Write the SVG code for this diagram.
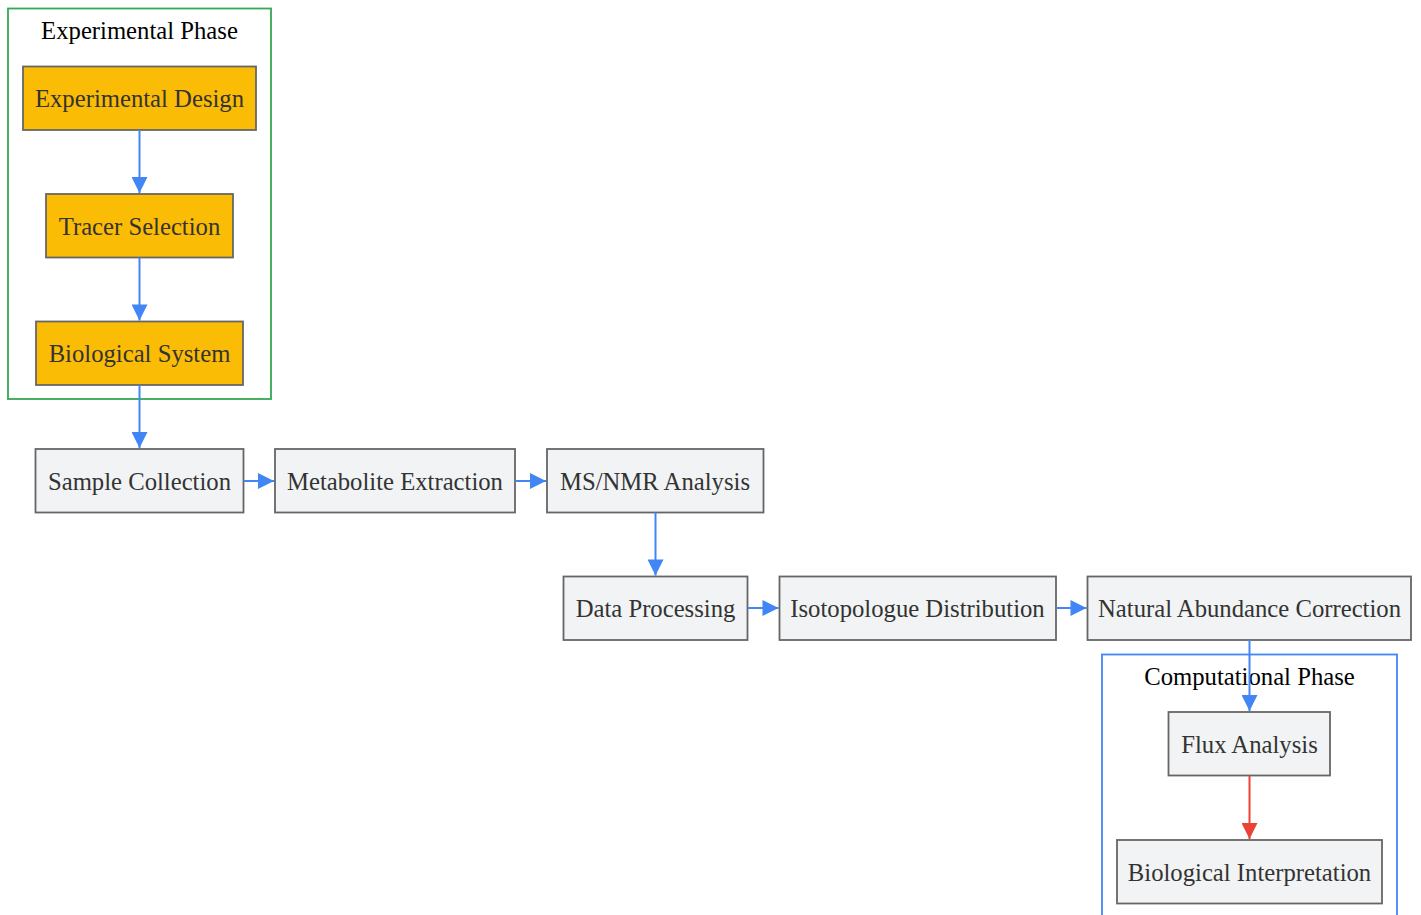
<svg xmlns="http://www.w3.org/2000/svg" width="1421" height="915" viewBox="0 0 1421 915">
<style>
text{font-family:"Liberation Serif","Times New Roman",serif;font-size:24.7px;text-anchor:middle;dominant-baseline:central}
.n text{fill:#333}
.t{fill:#000}
.exp rect{fill:#fbbc05;stroke:#666;stroke-width:1.8}
.gen rect{fill:#f1f3f4;stroke:#666;stroke-width:1.8}
.e{fill:none;stroke:#4285f4;stroke-width:2}
.r{stroke:#ea4335}
</style>
<defs>
<marker id="ab" viewBox="0 0 10 10" refX="10" refY="5" markerUnits="userSpaceOnUse" markerWidth="20" markerHeight="16" orient="auto"><path d="M0,0L10,5L0,10z" fill="#4285f4"/></marker>
<marker id="ar" viewBox="0 0 10 10" refX="10" refY="5" markerUnits="userSpaceOnUse" markerWidth="20" markerHeight="16" orient="auto"><path d="M0,0L10,5L0,10z" fill="#ea4335"/></marker>
</defs>
<rect width="1421" height="915" fill="#fff"/>
<g id="cluster-exp">
<rect x="8" y="8.5" width="263" height="390.5" fill="none" stroke="#34a853" stroke-width="1.8"/>
<text class="t" x="139.5" y="30">Experimental Phase</text>
</g>
<g id="cluster-comp">
<rect x="1102" y="654.5" width="295" height="270" fill="none" stroke="#4285f4" stroke-width="1.8"/>
<text class="t" x="1249.5" y="676">Computational Phase</text>
</g>
<g id="node-ed" class="n exp"><rect x="23" y="66.5" width="233" height="63.5"/><text x="139.5" y="98">Experimental Design</text></g>
<g id="node-ts" class="n exp"><rect x="46" y="194" width="187" height="63.5"/><text x="139.5" y="226">Tracer Selection</text></g>
<g id="node-bs" class="n exp"><rect x="36" y="321.5" width="207" height="63.5"/><text x="139.5" y="353">Biological System</text></g>
<g id="node-sc" class="n gen"><rect x="35.5" y="449" width="208" height="63.5"/><text x="139.5" y="481">Sample Collection</text></g>
<g id="node-me" class="n gen"><rect x="275" y="449" width="240" height="63.5"/><text x="395" y="481">Metabolite Extraction</text></g>
<g id="node-ms" class="n gen"><rect x="547" y="449" width="216.5" height="63.5"/><text x="655" y="481">MS/NMR Analysis</text></g>
<g id="node-dp" class="n gen"><rect x="563.5" y="576.5" width="184" height="63.5"/><text x="655.5" y="608">Data Processing</text></g>
<g id="node-id" class="n gen"><rect x="779.5" y="576.5" width="276.5" height="63.5"/><text x="917.5" y="608">Isotopologue Distribution</text></g>
<g id="node-nac" class="n gen"><rect x="1087.5" y="576.5" width="323.5" height="63.5"/><text x="1249.5" y="608">Natural Abundance Correction</text></g>
<g id="node-fa" class="n gen"><rect x="1168.5" y="712" width="161.5" height="63.5"/><text x="1249.5" y="744">Flux Analysis</text></g>
<g id="node-bi" class="n gen"><rect x="1117" y="840" width="265" height="63.5"/><text x="1249.5" y="872">Biological Interpretation</text></g>
<g id="edges">
<path class="e" d="M139.5,130V193" marker-end="url(#ab)"/>
<path class="e" d="M139.5,257.5V320.5" marker-end="url(#ab)"/>
<path class="e" d="M139.5,385V448" marker-end="url(#ab)"/>
<path class="e" d="M243.5,481H274" marker-end="url(#ab)"/>
<path class="e" d="M515,481H546" marker-end="url(#ab)"/>
<path class="e" d="M655.5,512.5V575.5" marker-end="url(#ab)"/>
<path class="e" d="M747.5,608H778.5" marker-end="url(#ab)"/>
<path class="e" d="M1056,608H1086.5" marker-end="url(#ab)"/>
<path class="e" d="M1249.5,640V711" marker-end="url(#ab)"/>
<path class="e r" d="M1249.5,775.5V839" marker-end="url(#ar)"/>
</g>
</svg>
